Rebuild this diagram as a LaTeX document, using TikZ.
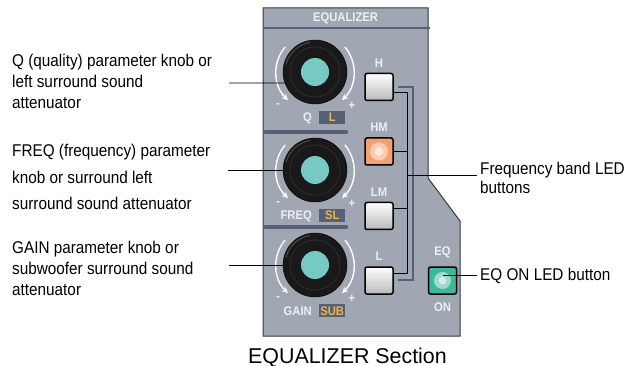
\documentclass[tikz,border=0pt]{standalone}
\usepackage{fontspec}
\setmainfont{Liberation Sans}
\newfontfamily\narrowfont[FakeStretch=0.9]{Liberation Sans}
\usepackage{tikz}
\usetikzlibrary{arrows.meta,positioning,calc}

\definecolor{panelgrey}{RGB}{160,166,178}
\definecolor{paneledge}{RGB}{52,56,64}
\definecolor{slate}{RGB}{86,97,120}
\definecolor{capteal}{RGB}{118,201,196}
\definecolor{tagorange}{RGB}{242,180,60}
\definecolor{ledorange}{RGB}{245,160,112}
\definecolor{ledteal}{RGB}{60,184,155}
\definecolor{paneltext}{RGB}{236,239,243}

\begin{document}
\begin{tikzpicture}[
    x=1pt, y=-1pt,
    >=Stealth,
    calltext/.style={font=\narrowfont\fontsize{17}{21}\selectfont, align=left,
                     inner xsep=3pt, inner ysep=0pt},
    paneltxt/.style={font=\narrowfont\bfseries\fontsize{12.5}{12.5}\selectfont,
                     text=paneltext, inner sep=0pt},
    tagbox/.style={fill=slate, minimum width=26pt, minimum height=13pt,
                   inner sep=0pt, text=tagorange,
                   font=\narrowfont\bfseries\fontsize{12.5}{12.5}\selectfont},
    knob/.style={circle, fill=black!90, draw=black, minimum size=64pt, inner sep=0pt},
    knobcap/.style={circle, fill=capteal, minimum size=28pt, inner sep=0pt},
    bandbtn/.style={draw=black, line width=1.5pt, rounded corners=2pt,
                    minimum width=28pt, minimum height=27pt, inner sep=0pt},
    glow/.style={circle, inner sep=0pt, minimum size=#1},
    leader/.style={line width=0.9pt},
    wire/.style={line width=1pt},
    twistarc/.style={white, line width=1.4pt, -{Stealth[length=6pt,width=6pt]}},
]
\useasboundingbox (0,0) rectangle (629,366);

% --- Panel ---
\draw[fill=panelgrey, draw=paneledge, line width=1pt]
    (263,8) -- (428,8) -- (428,178) -- (460,221) -- (460,336) -- (263,336) -- cycle;
\draw[slate, line width=2.5pt] (263,28) -- (430,28);
\node[paneltxt] (eqtitle) at (345.5,18) {EQUALIZER};

% --- Separators ---
\draw[slate, line width=4.5pt, line cap=round] (265.5,132) -- (346,132);
\draw[slate, line width=4.5pt, line cap=round] (265.5,227) -- (346,227);

% --- Knobs ---
\foreach \k/\y/\nm/\tg in {q/72/Q/L, freq/170/FREQ/SL, gain/265/GAIN/SUB} {
  \node[knob] (\k knob) at (315,\y) {};
  \draw[gray!35!black, line width=0.8pt] (\k knob.center) circle[radius=25];
  \draw[gray!55!black, line width=1.2pt] (\k knob.center) ++(-100:30)
      arc[start angle=-100, end angle=-165, radius=30];
  \node[knobcap] (\k cap) at (\k knob) {};
  \draw[twistarc] (\k knob.center) ++(-140:39) arc[start angle=-140, end angle=-226, radius=39];
  \draw[twistarc] (\k knob.center) ++(-40:39) arc[start angle=-40, end angle=46, radius=39];
  \node[paneltxt] (\k minus) at ($(\k knob.center)+(-37,34)$) {-};
  \node[paneltxt] (\k plus) at ($(\k knob.center)+(37,34)$) {+};
  \node[paneltxt, anchor=base east] (\k name) at ($(\k knob.center)+(-3,50)$) {\nm};
  \node[tagbox, anchor=base west] (\k tag) at ($(\k name.base east)+(7,0)$) {\tg};
}

% --- Band buttons ---
\draw[slate, line width=2pt] (398,87) -- (413,87) -- (413,280) -- (398,280);
\coordinate (bustop) at (407,93);
\coordinate (busbot) at (407,273);
\coordinate (lmtap) at (407,209);
\coordinate (bustap) at (407,175);

\node[bandbtn, top color=white, bottom color=gray!55] (hbtn) at (379,87) {};
\node[bandbtn, fill=ledorange] (hmbtn) at (379,151.5) {};
\node[glow=18pt, fill=ledorange!55!white] (hmglow) at (hmbtn) {};
\node[glow=9pt, fill=ledorange!25!white] (hmspot) at (hmbtn) {};
\node[bandbtn, top color=white, bottom color=gray!55] (lmbtn) at (379,216) {};
\node[bandbtn, top color=white, bottom color=gray!55] (lbtn) at (379,280.5) {};

\node[paneltxt, above=5.5pt of hbtn] (hlabel) {H};
\node[paneltxt, above=5.5pt of hmbtn] (hmlabel) {HM};
\node[paneltxt, above=5.5pt of lmbtn] (lmlabel) {LM};
\node[paneltxt, above=5.5pt of lbtn] (llabel) {L};

\draw[wire] (hbtn.east |- bustop) -- (bustop) -- (busbot) -- (lbtn.east |- busbot);
\draw[wire] (hmbtn.east) -- (hmbtn.east -| bustop);
\draw[wire] (lmtap) -- (lmtap -| lmbtn.east);

% --- EQ ON button ---
\node[bandbtn, fill=ledteal] (eqbtn) at (442.5,280.5) {};
\node[glow=17pt, fill=ledteal!50!white] (eqglow) at (eqbtn) {};
\node[glow=8pt, fill=ledteal!25!white] (eqspot) at (eqbtn) {};
\node[paneltxt] (eqlabel) at (442.5,252) {EQ};
\node[paneltxt] (onlabel) at (442.5,307) {ON};

% --- Callouts (base = last line) ---
\node[calltext, anchor=base west] (qtext) at (9,109)
    {Q (quality) parameter knob or\\left surround sound\\attenuator};
\node[calltext, anchor=base west, font=\narrowfont\fontsize{17}{26.5}\selectfont] (freqtext) at (9,210)
    {FREQ (frequency) parameter\\knob or surround left\\surround sound attenuator};
\node[calltext, anchor=base west] (gaintext) at (9,295)
    {GAIN parameter knob or\\subwoofer surround sound\\attenuator};
\node[calltext, anchor=base west, font=\narrowfont\fontsize{17}{18.5}\selectfont] (bandtext) at (477,193.5)
    {Frequency band LED\\buttons};
\node[calltext, anchor=base west] (eqtext) at (477,280) {EQ ON LED button};

\coordinate (qend) at (229,83);
\coordinate (freqend) at (228,170);
\coordinate (gainend) at (229,265);
\draw[leader] (qend) -- (qknob.200);
\draw[leader] (freqend) -- (freqknob.west);
\draw[leader] (gainend) -- (gainknob.west);
\draw[leader] (bustap) -- (bustap -| bandtext.west);
\draw[leader] (eqtext.west) -- (eqtext.west -| eqbtn.center);

% --- Caption ---
\node[font=\fontsize{21.4}{24}\selectfont, inner sep=0pt, anchor=base] (caption)
    at (347.5,363) {EQUALIZER Section};

\end{tikzpicture}
\end{document}
